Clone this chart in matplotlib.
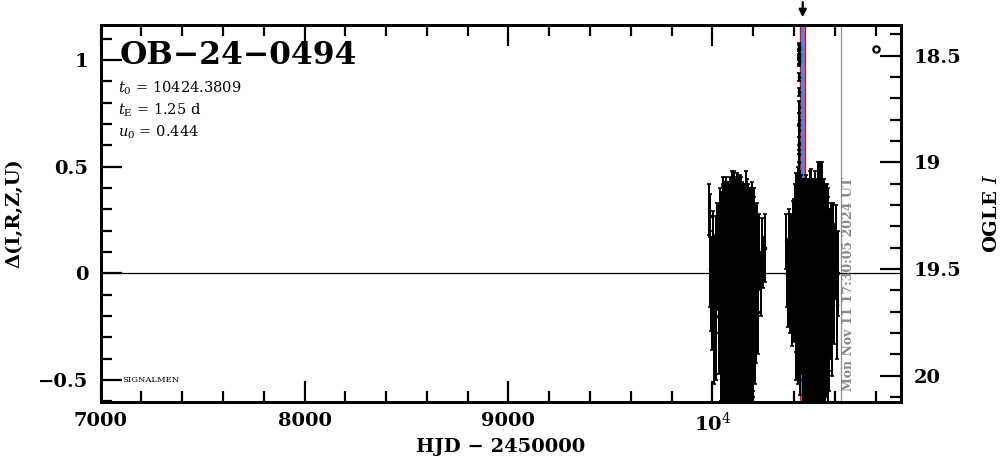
import matplotlib
matplotlib.use("Agg")
import matplotlib.pyplot as plt
from matplotlib.ticker import MultipleLocator, FixedLocator
import numpy as np

# --- data (HJD-2450000, delta mag, error) ---
t1 = [9983, 9986, 9990, 9994, 9998, 10002, 10006, 10011, 10016, 10020, 10025, 10030, 10034,
      10037, 10040, 10043, 10046, 10049, 10052, 10055, 10058, 10061, 10064, 10067, 10070,
      10073, 10076, 10079, 10082, 10085, 10088, 10091, 10094, 10097, 10100, 10103, 10106,
      10109, 10112, 10115, 10118, 10121, 10124, 10127, 10130, 10133, 10136, 10139, 10142,
      10145, 10148, 10151, 10154, 10157, 10160, 10163, 10166, 10169, 10172, 10175, 10178,
      10181, 10184, 10187, 10190, 10193, 10196, 10199, 10202, 10205, 10208, 10211, 10214,
      10218, 10223, 10229, 10236, 10243, 10250, 10257]
d1 = [0.30, 0.27, 0.02, -0.05, -0.16, 0.04, -0.30, -0.10, 0.05, -0.20, 0.08, -0.12, 0.02,
      -0.05, 0.10, -0.20, 0.05, -0.10, 0.12, -0.25, 0.00, -0.15, 0.08, -0.30, 0.03,
      -0.12, 0.10, -0.22, 0.02, -0.08, 0.15, -0.28, -0.02, 0.06, -0.18, 0.12, -0.06,
      0.05, -0.20, 0.10, -0.10, 0.00, -0.25, 0.14, -0.05, 0.20, -0.15, 0.08, -0.02,
      -0.18, 0.06, -0.30, 0.10, -0.08, 0.02, -0.22, 0.12, -0.12, 0.04, -0.26, 0.08,
      -0.05, -0.20, 0.05, -0.10, -0.28, 0.02, -0.15, 0.10, -0.06, -0.22, 0.04, -0.12,
      0.08, -0.18, 0.10, -0.05, 0.12, 0.05, 0.12]
e1 = [0.12, 0.10, 0.18, 0.22, 0.20, 0.25, 0.22, 0.28, 0.22, 0.30, 0.25, 0.35, 0.30,
      0.35, 0.28, 0.40, 0.32, 0.45, 0.30, 0.50, 0.38, 0.45, 0.32, 0.50, 0.40,
      0.45, 0.30, 0.48, 0.40, 0.42, 0.30, 0.55, 0.42, 0.35, 0.50, 0.30, 0.45,
      0.35, 0.48, 0.30, 0.45, 0.40, 0.50, 0.28, 0.42, 0.26, 0.48, 0.34, 0.40,
      0.48, 0.34, 0.45, 0.30, 0.46, 0.38, 0.50, 0.30, 0.45, 0.36, 0.42, 0.32,
      0.42, 0.45, 0.35, 0.40, 0.38, 0.36, 0.40, 0.30, 0.36, 0.30, 0.28, 0.30,
      0.25, 0.20, 0.18, 0.15, 0.14, 0.12, 0.16]

# second set of 2023 points (interleaved with the first)
t1b = [10038.5, 10041.5, 10044.5, 10047.5, 10050.5, 10053.5, 10056.5, 10059.5, 10062.5, 10065.5, 10068.5, 10071.5,
       10074.5, 10077.5, 10080.5, 10083.5, 10086.5, 10089.5, 10092.5, 10095.5, 10098.5, 10101.5, 10104.5, 10107.5,
       10110.5, 10113.5, 10116.5, 10119.5, 10122.5, 10125.5, 10128.5, 10131.5, 10134.5, 10137.5, 10140.5, 10143.5,
       10146.5, 10149.5, 10152.5, 10155.5, 10158.5, 10161.5, 10164.5, 10167.5, 10170.5, 10173.5, 10176.5, 10179.5,
       10182.5, 10185.5, 10188.5, 10191.5, 10194.5, 10197.5, 10200.5, 10203.5, 10206.5, 10209.5]
d1b = [0.12, -0.15, 0.02, -0.28, 0.15, -0.10, 0.05, -0.22, 0.18, -0.05, 0.00, -0.18,
       0.08, -0.30, 0.12, -0.12, 0.03, -0.20, 0.16, -0.08, -0.25, 0.10, -0.02, -0.15,
       0.14, -0.22, 0.06, -0.05, 0.20, -0.30, 0.00, 0.10, -0.18, 0.04, -0.10, 0.15,
       -0.06, 0.12, -0.20, 0.02, -0.32, 0.08, -0.04, -0.16, 0.16, -0.24, 0.00, -0.10,
       0.10, -0.14, 0.04, -0.26, -0.02, 0.12, -0.20, 0.06, -0.10, 0.02]
e1b = [0.28, 0.50, 0.36, 0.45, 0.26, 0.55, 0.34, 0.48, 0.25, 0.50, 0.40, 0.52,
       0.34, 0.45, 0.30, 0.55, 0.38, 0.50, 0.28, 0.56, 0.42, 0.32, 0.50, 0.55,
       0.30, 0.50, 0.36, 0.52, 0.25, 0.48, 0.45, 0.32, 0.52, 0.38, 0.55, 0.28,
       0.48, 0.30, 0.50, 0.40, 0.44, 0.34, 0.52, 0.50, 0.28, 0.45, 0.42, 0.50,
       0.30, 0.48, 0.36, 0.40, 0.45, 0.28, 0.38, 0.30, 0.36, 0.30]

t2 = [10361, 10366, 10371, 10376, 10381, 10386, 10390, 10394, 10398, 10402,
      10405, 10408, 10411, 10414, 10417, 10420, 10423, 10427, 10430, 10433, 10436, 10439,
      10442, 10445, 10448, 10451, 10454, 10457, 10460, 10463, 10466, 10469, 10472, 10475,
      10478, 10481, 10484, 10487, 10490, 10493, 10496, 10499, 10502, 10505, 10508, 10511,
      10514, 10517, 10520, 10523, 10526, 10529, 10532, 10535, 10538, 10541, 10544, 10547,
      10550, 10553, 10556, 10559, 10562, 10565, 10568, 10571, 10575, 10580, 10586, 10592,
      10598, 10604, 10610, 10616]
d2 = [0.15, 0.00, -0.05, 0.08, -0.10, 0.03, -0.12, 0.06, -0.02, 0.10,
      0.05, 0.15, -0.05, 0.20, 0.10, 0.30, 0.25, 0.18, 0.05, 0.12, -0.05, 0.08,
      -0.10, 0.06, -0.18, 0.02, -0.08, 0.10, -0.25, -0.02, 0.04, -0.20, 0.12, -0.10,
      -0.05, 0.08, -0.25, 0.00, -0.15, 0.14, -0.30, 0.05, -0.10, -0.02, 0.10, -0.20,
      0.06, -0.12, 0.18, -0.25, 0.02, -0.08, 0.12, -0.30, 0.20, -0.05, 0.08, -0.18,
      -0.02, -0.20, 0.10, -0.12, 0.00, -0.28, 0.06, -0.15, -0.05, 0.05, -0.18, 0.08,
      -0.05, 0.10, -0.15, 0.00]
e2 = [0.13, 0.16, 0.20, 0.22, 0.18, 0.25, 0.22, 0.28, 0.30, 0.25,
      0.30, 0.25, 0.32, 0.25, 0.30, 0.20, 0.22, 0.28, 0.35, 0.30, 0.35, 0.32,
      0.40, 0.34, 0.45, 0.38, 0.45, 0.32, 0.50, 0.42, 0.38, 0.50, 0.30, 0.46,
      0.45, 0.35, 0.50, 0.42, 0.48, 0.30, 0.52, 0.38, 0.46, 0.44, 0.32, 0.50,
      0.38, 0.46, 0.34, 0.50, 0.42, 0.45, 0.32, 0.48, 0.32, 0.45, 0.36, 0.48,
      0.42, 0.45, 0.32, 0.44, 0.40, 0.40, 0.34, 0.40, 0.35, 0.28, 0.30, 0.25,
      0.28, 0.22, 0.25, 0.20]

# second set of 2024 points
t2b = [10406.5, 10409.5, 10412.5, 10415.5, 10418.5, 10421.5, 10425.5, 10428.5, 10431.5, 10434.5, 10437.5, 10440.5,
       10443.5, 10446.5, 10449.5, 10452.5, 10455.5, 10458.5, 10461.5, 10464.5, 10467.5, 10470.5, 10473.5, 10476.5,
       10479.5, 10482.5, 10485.5, 10488.5, 10491.5, 10494.5, 10497.5, 10500.5, 10503.5, 10506.5, 10509.5, 10512.5,
       10515.5, 10518.5, 10521.5, 10524.5, 10527.5, 10530.5, 10533.5, 10536.5, 10539.5, 10542.5, 10545.5, 10548.5,
       10551.5, 10554.5, 10557.5, 10560.5, 10563.5, 10566.5, 10569.5, 10573.5]
d2b = [0.10, -0.10, 0.22, 0.02, -0.08, 0.15, 0.28, 0.00, -0.12, 0.18, -0.05, 0.10,
       0.04, -0.20, 0.12, -0.08, 0.00, -0.28, 0.16, -0.12, 0.06, -0.22, 0.10, -0.04,
       -0.18, 0.12, -0.06, 0.02, -0.30, 0.08, -0.14, 0.18, -0.02, -0.24, 0.06, -0.10,
       0.14, -0.20, 0.00, -0.08, 0.22, -0.16, 0.04, -0.26, 0.10, -0.12, 0.02, 0.00,
       -0.22, 0.08, -0.06, 0.14, -0.18, 0.02, -0.10, -0.05]
e2b = [0.32, 0.40, 0.25, 0.38, 0.44, 0.28, 0.20, 0.40, 0.45, 0.28, 0.42, 0.32,
       0.40, 0.48, 0.32, 0.52, 0.42, 0.46, 0.30, 0.55, 0.38, 0.50, 0.34, 0.52,
       0.48, 0.32, 0.55, 0.40, 0.46, 0.36, 0.52, 0.26, 0.50, 0.45, 0.38, 0.54,
       0.30, 0.50, 0.44, 0.55, 0.30, 0.48, 0.40, 0.45, 0.34, 0.52, 0.42, 0.40,
       0.40, 0.32, 0.42, 0.28, 0.40, 0.34, 0.36, 0.32]

# points taken during the short peak
t_peak = [10424.05, 10424.12, 10424.20, 10424.26, 10424.32, 10424.38, 10424.44,
          10424.50, 10424.56, 10424.62, 10424.70, 10424.78, 10424.86, 10424.95]
d_peak = [0.52, 0.56, 0.61, 0.67, 0.72, 0.78, 0.85, 0.92, 0.99, 1.02, 1.05, 1.06, 1.03, 1.00]
e_peak = [0.04, 0.04, 0.03, 0.03, 0.03, 0.03, 0.02, 0.02, 0.02, 0.02, 0.02, 0.02, 0.02, 0.02]

event = "OB\u221224\u22120494"
t0, tE, u0 = 10424.3809, 1.25, 0.444
I0 = 19.52                 # baseline OGLE I (delta = 0)
band = (10432, 10454)      # blue marker band around the peak
t_now = 10630              # date of the plot
now_label = "Mon Nov 11 17:30:05 2024 UT"

xlim = (7000, 10925)
ylim = (-0.603, 1.164)

plt.rcParams["font.family"] = ["DejaVu Serif"]
plt.rcParams["mathtext.fontset"] = "dejavuserif"

fig = plt.figure(figsize=(10.04, 4.59), dpi=100)
ax = fig.add_axes([0.1003, 0.1242, 0.7971, 0.8213])

ax.axvspan(*band, color="#3f8fea", lw=0, zorder=1)
for x in band:
    ax.axvline(x, color="red", lw=1.0, zorder=1.5)
ax.axvline(t_now, color="#999999", lw=1.0, zorder=1)
ax.axhline(0, color="black", lw=0.9, zorder=2)

kw = dict(fmt="s", ms=1.8, color="black", ecolor="black", elinewidth=1.2,
          capsize=1.6, capthick=1.2, zorder=3)
for t, d, e in [(t1, d1, e1), (t1b, d1b, e1b), (t2, d2, e2), (t2b, d2b, e2b),
                (t_peak, d_peak, e_peak)]:
    eb = ax.errorbar(t, d, yerr=e, **kw)
    for c in eb[2]:
        c.set_antialiased(False)
    for c in eb[1]:
        c.set_antialiased(False)

ax.plot([10802], [1.05], "o", ms=4.5, mfc="white", mec="black", mew=1.6, zorder=4)

ax.set_xlim(*xlim)
ax.set_ylim(*ylim)

ax.xaxis.set_major_locator(FixedLocator([7000, 8000, 9000, 10000]))
ax.set_xticklabels(["7000", "8000", "9000", r"10$^4$"])
ax.xaxis.set_minor_locator(MultipleLocator(200))
ax.yaxis.set_major_locator(MultipleLocator(0.5))
ax.yaxis.set_minor_locator(MultipleLocator(0.1))
ax.set_yticks([-0.5, 0, 0.5, 1])
ax.set_yticklabels(["\u22120.5", "0", "0.5", "1"])

ax.tick_params(which="both", direction="in", top=True, right=False, width=1.6,
               labelsize=14)
ax.tick_params(which="major", length=15, pad=7)
ax.tick_params(which="minor", length=8)
ax.tick_params(axis="y", which="major", pad=9)
for lab in ax.get_xticklabels() + ax.get_yticklabels():
    lab.set_fontweight("bold")
for s in ax.spines.values():
    s.set_linewidth(2)

ax2 = ax.twinx()
ax2.set_ylim(I0 - ylim[0], I0 - ylim[1])
ax2.yaxis.set_major_locator(FixedLocator([18.5, 19, 19.5, 20]))
ax2.set_yticklabels(["18.5", "19", "19.5", "20"])
ax2.yaxis.set_minor_locator(MultipleLocator(0.1))
ax2.tick_params(which="both", direction="in", width=1.6, labelsize=14)
ax2.tick_params(which="major", length=15, pad=9)
ax2.tick_params(which="minor", length=8)
for lab in ax2.get_yticklabels():
    lab.set_fontweight("bold")
for s in ax2.spines.values():
    s.set_linewidth(2)

ax.set_xlabel("HJD \u2212 2450000", fontsize=14, fontweight="bold")
ax.xaxis.set_label_coords(0.5, -0.095)
ax.set_ylabel("\u0394(I,R,Z,U)", fontsize=14, fontweight="bold")
ax.yaxis.set_label_coords(-0.096, 0.5)
ax2.set_ylabel(r"OGLE $\it{I}$", fontsize=14, fontweight="bold")
ax2.yaxis.set_label_coords(1.103, 0.5)

ax.text(0.024, 0.918, event, transform=ax.transAxes, fontsize=22.6,
        fontweight="bold", va="center", ha="left")
ax.text(0.022, 0.833, r"$t_0$ = %.4f" % t0, transform=ax.transAxes,
        fontsize=10.5, va="center")
ax.text(0.022, 0.775, r"$t_{\rm E}$ = %.2f d" % tE, transform=ax.transAxes,
        fontsize=10.5, va="center")
ax.text(0.022, 0.716, r"$u_0$ = %.3f" % u0, transform=ax.transAxes,
        fontsize=10.5, va="center")
ax.text(0.027, 0.058, "SIGNALMEN", transform=ax.transAxes, fontsize=6,
        va="center")

ax.text(10668, -0.55, now_label, rotation=90, color="#888888", fontsize=9,
        fontweight="bold", ha="center", va="bottom", zorder=5)

ax.annotate("", xy=(np.mean(band), 1.013), xycoords=("data", "axes fraction"),
            xytext=(np.mean(band), 1.068), textcoords=("data", "axes fraction"),
            arrowprops=dict(arrowstyle="-|>", color="black", lw=1.6,
                            mutation_scale=11), annotation_clip=False)

fig.savefig("out.png", dpi=100)
